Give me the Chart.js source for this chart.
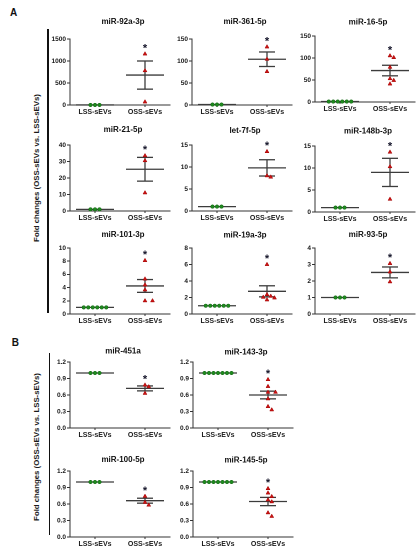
<!DOCTYPE html>
<html><head><meta charset="utf-8">
<script src="https://cdn.jsdelivr.net/npm/chart.js@4.4.1/dist/chart.umd.min.js"></script>
<style>
html,body{margin:0;padding:0;background:#fff;}
#root{position:relative;width:420px;height:550px;overflow:hidden;font-family:"Liberation Sans",Arial,sans-serif;}
.lbl{position:absolute;font-weight:bold;color:#111;white-space:nowrap;font-size:10px;line-height:10px;}
.ylab{position:absolute;font-weight:bold;font-size:7.8px;line-height:9px;color:#1a1a1a;white-space:nowrap;transform:translate(-50%,-50%) rotate(-90deg);}
.bracket{position:absolute;background:#111;width:1.5px;}
canvas{position:absolute;}
</style></head><body><div id="root">
<div class="lbl" style="left:10px;top:7.8px;">A</div>
<div class="lbl" style="left:11.7px;top:337.8px;">B</div>
<div class="ylab" style="left:35.5px;top:168px;">Fold changes (OSS-sEVs vs. LSS-sEVs)</div>
<div class="ylab" style="left:35.5px;top:447px;">Fold changes (OSS-sEVs vs. LSS-sEVs)</div>
<div class="bracket" style="left:47px;top:29px;height:284px;"></div>
<div class="bracket" style="left:48.5px;top:353px;height:182px;"></div>
</div>
<script>
// ---- data ----
const titles = ['miR-92a-3p','miR-361-5p','miR-16-5p','miR-21-5p','let-7f-5p','miR-148b-3p',
  'miR-101-3p','miR-19a-3p','miR-93-5p','miR-451a','miR-143-3p','miR-100-5p','miR-145-5p'];
const groupLabels = ['LSS-sEVs','OSS-sEVs'];
const lssValues = [
  [1,1,1],[1,1,1],[1,1,1,1,1,1],[1,1,1],[1,1,1],[1,1,1],
  [1,1,1,1,1,1],[1,1,1,1,1,1],[1,1,1],[1,1,1],[1,1,1,1,1,1,1],[1,1,1],[1,1,1,1,1,1,1]
];
const lssMean = [1,1,1,1,1,1,1,1,1,1,1,1,1];
const ossValues = [
  [1160,780,70],
  [132,104,76],
  [105,101,79,53,49,41],
  [33.5,30.5,11],
  [13.5,8.0,7.7],
  [13.6,10.3,2.9],
  [8.1,5.3,4.4,3.65,2.0,2.0],
  [6.0,2.35,2.15,2.03,1.95,1.71],
  [3.06,2.55,1.95],
  [0.78,0.75,0.63],
  [0.88,0.755,0.65,0.65,0.53,0.39,0.33],
  [0.74,0.63,0.58],
  [0.88,0.80,0.735,0.675,0.64,0.44,0.375]
];
const ossMean = [680,104,71.5,25.3,9.8,9.0,4.25,2.75,2.52,0.72,0.60,0.66,0.645];
const ossSem  = [320,16.5,12,7.2,1.85,3.2,0.97,0.67,0.33,0.045,0.07,0.045,0.075];
const yMax  = [1500,150,150,40,15,15,10,8,4,1.2,1.2,1.2,1.2];
const yStep = [500,50,50,10,5,5,2,2,1,0.3,0.3,0.3,0.3];

// ---- layout (page pixels): plot-area left, plot-area top, title centre y ----
const layout = [
  [70,39,22],[192,39,22],[315,35.5,22],
  [70,145,130],[192,145,131],[315,145.5,131],
  [70,248,235],[192,247.5,235],[315,248,235],
  [70,361.5,351],[193,361.5,352],
  [70,470.5,459.5],[193,470.5,460]
];
const AREA_W = 100, AREA_H = 66, Y_W = 30, X_H = 16, PAD_T = 30, PAD_R = 8;
const FAMILY = '"Liberation Sans", Arial, sans-serif';
const MEAN_HW = 0.38, SEM_HW = 0.16, DOT_STEP = 0.09, SWARM_STEP = 0.075;
const GREEN = '#1f8a1f', RED = '#cc1414', LINE = '#3c3c3c', AXIS = '#333';

function swarmOffsets(values, range) {
  const order = values.map((v,i)=>i).sort((a,b)=>values[b]-values[a]);
  const pxX = AREA_W/2, pxY = AREA_H/range, minD = 3.8;
  const placed = [], offs = new Array(values.length).fill(0);
  const cands = [0,1,-1,2,-2,3,-3];
  order.forEach(i => {
    const py = values[i]*pxY;
    for (const k of cands) {
      const px = k*SWARM_STEP*pxX;
      if (placed.every(p => Math.hypot(p.px-px, p.py-py) >= minD)) {
        offs[i] = k*SWARM_STEP; placed.push({px,py}); break;
      }
    }
  });
  return offs;
}

const annotPlugin = {
  id: 'annot',
  afterDatasetsDraw(chart, args, opts) {
    const {ctx, chartArea, scales} = chart;
    ctx.save();
    ctx.fillStyle = '#111';
    ctx.textAlign = 'center';
    ctx.textBaseline = 'middle';
    ctx.font = 'bold 8px ' + FAMILY;
    ctx.fillText(opts.title, (chartArea.left + chartArea.right)/2 + 3, opts.titleY);
    const top = Math.max(...opts.values);
    const px = scales.x.getPixelForValue(2), py = scales.y.getPixelForValue(top);
    ctx.font = 'bold 11px ' + FAMILY;
    ctx.fillStyle = '#15152a';
    ctx.textBaseline = 'alphabetic';
    ctx.fillText('*', px, py - 2.5);
    ctx.restore();
  }
};

const root = document.getElementById('root');
titles.forEach((title, i) => {
  const [aL, aT, tY] = layout[i];
  const W = Y_W + AREA_W + PAD_R, H = PAD_T + AREA_H + X_H;
  const cL = aL - Y_W, cT = aT - PAD_T;
  const cv = document.createElement('canvas');
  cv.width = W; cv.height = H;
  cv.style.left = cL + 'px'; cv.style.top = cT + 'px';
  cv.style.width = W + 'px'; cv.style.height = H + 'px';
  root.appendChild(cv);

  const lss = lssValues[i], oss = ossValues[i];
  const lssPts = lss.map((v,k) => ({x: 1 + (k - (lss.length-1)/2)*DOT_STEP, y: v}));
  const offs = swarmOffsets(oss, yMax[i]);
  const ossPts = oss.map((v,k) => ({x: 2 + offs[k], y: v}));
  const m = ossMean[i], s = ossSem[i];
  const seg = (x1,y1,x2,y2) => ({data:[{x:x1,y:y1},{x:x2,y:y2}], showLine:true, borderColor:LINE,
    borderWidth:1.3, pointRadius:0, clip:false});
  const dec = yStep[i] < 1 ? 1 : 0;

  new Chart(cv, {
    type: 'scatter',
    data: { datasets: [
      {data: ossPts, pointStyle:'triangle', pointRadius:2.3, backgroundColor:RED, borderColor:'#a00000', borderWidth:0.5, clip:false},
      {data: lssPts, pointStyle:'circle', pointRadius:1.8, backgroundColor:GREEN, borderColor:'#126312', borderWidth:0.5, clip:false},
      seg(1-MEAN_HW, lssMean[i], 1+MEAN_HW, lssMean[i]),
      seg(2-MEAN_HW, m, 2+MEAN_HW, m),
      seg(2-SEM_HW, m+s, 2+SEM_HW, m+s),
      seg(2-SEM_HW, m-s, 2+SEM_HW, m-s),
      seg(2, m+s, 2, m-s)
    ]},
    options: {
      responsive:false, animation:false, devicePixelRatio: 2,
      layout: {padding:{top:PAD_T, right:PAD_R, left:0, bottom:0}},
      plugins: {legend:{display:false}, tooltip:{enabled:false},
        annot: {title: title, titleY: tY - cT, values: oss}},
      scales: {
        x: {type:'linear', min:0.5, max:2.5,
          afterBuildTicks: sc => { sc.ticks = [{value:1},{value:2}]; },
          afterFit: sc => { sc.height = X_H; },
          ticks: {autoSkip:false, maxRotation:0, padding:1, color:'#1a1a1a',
            font:{size:7, weight:'bold', family:FAMILY},
            callback: v => v === 1 ? groupLabels[0] : (v === 2 ? groupLabels[1] : '')},
          grid: {drawOnChartArea:false, drawTicks:true, tickLength:2, color:AXIS, lineWidth:1},
          border: {display:true, color:AXIS, width:1}
        },
        y: {min:0, max:yMax[i],
          afterFit: sc => { sc.width = Y_W; },
          ticks: {stepSize:yStep[i], padding:1, color:'#1a1a1a',
            font:{size:6.5, weight:'bold', family:FAMILY},
            callback: v => Number(v).toFixed(dec)},
          grid: {drawOnChartArea:false, drawTicks:true, tickLength:3, color:AXIS, lineWidth:1},
          border: {display:true, color:AXIS, width:1}
        }
      }
    },
    plugins: [annotPlugin]
  });
});
</script>
</body></html>
